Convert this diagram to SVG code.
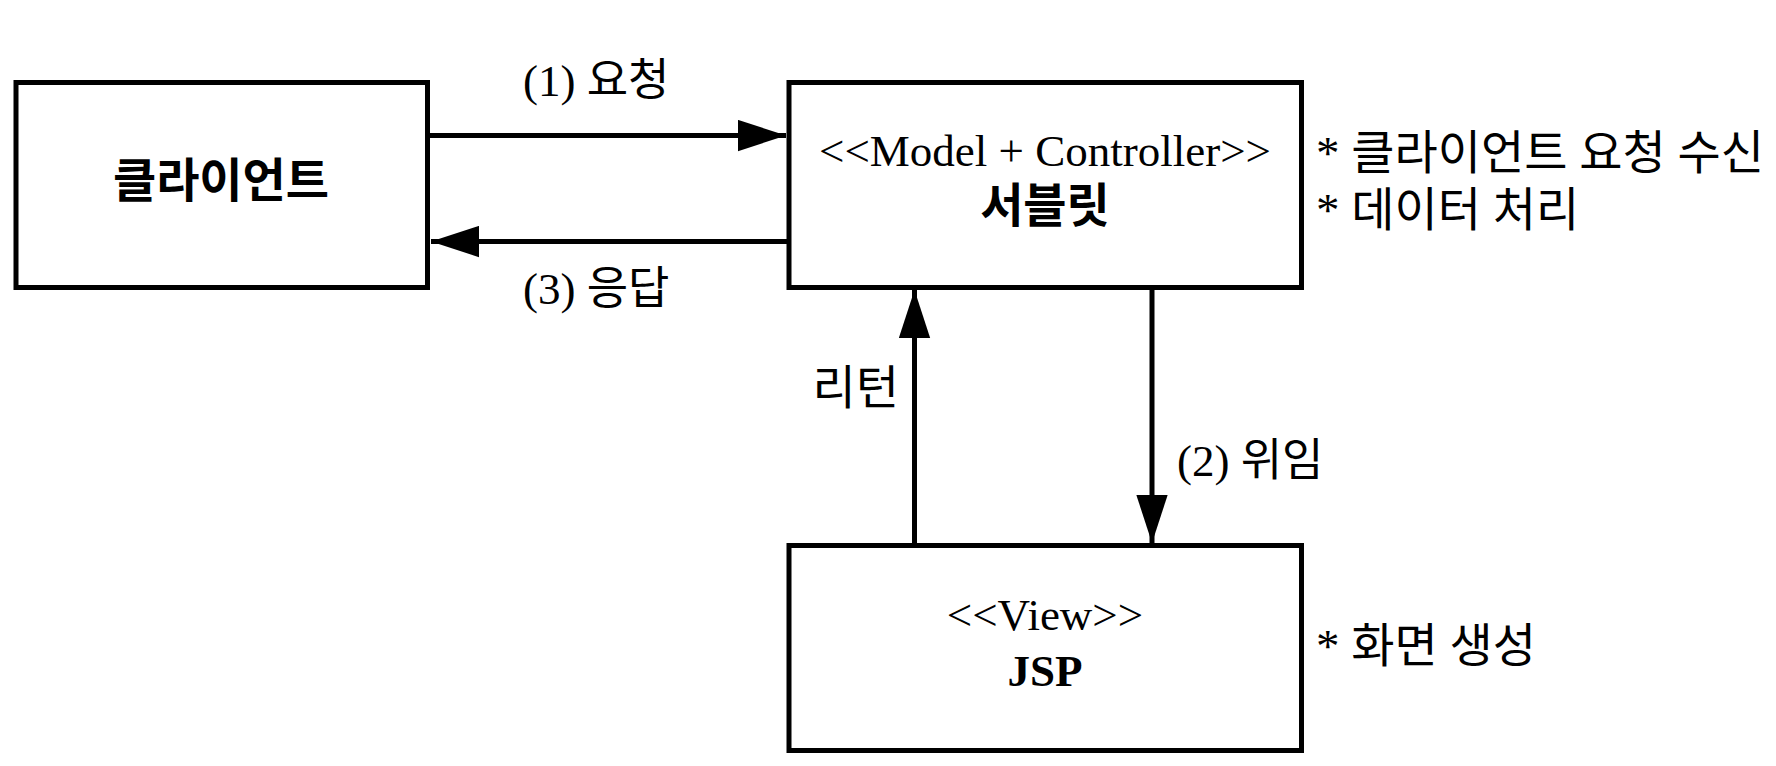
<svg xmlns="http://www.w3.org/2000/svg" width="1776" height="766" viewBox="0 0 1776 766">
  <style>
    .box { fill: #ffffff; stroke: #000000; stroke-width: 5; }
    .conn { stroke: #000000; stroke-width: 5; fill: none; }
    .t { font-family: "Liberation Serif", "Noto Sans CJK KR", serif; font-size: 45px; fill: #000000; }
    .k { font-size: 47px; }
    .b { font-weight: bold; }
    .c { text-anchor: middle; }
  </style>
  <defs>
    <marker id="arrow" markerUnits="userSpaceOnUse" markerWidth="48" markerHeight="32" viewBox="0 0 46 30" refX="46" refY="15" orient="auto">
      <path d="M0,0 L46,15 L0,30 Z" fill="#000000"/>
    </marker>
  </defs>
  <rect x="0" y="0" width="1776" height="766" fill="#ffffff"/>

  <g id="client">
    <rect class="box" x="16" y="82.5" width="411.5" height="205"/>
    <text class="t k b c" x="221" y="197">클라이언트</text>
  </g>

  <g id="servlet">
    <rect class="box" x="789" y="82.5" width="512.5" height="205"/>
    <text class="t c" x="1045" y="166">&lt;&lt;Model + Controller&gt;&gt;</text>
    <text class="t k b c" x="1045" y="222">서블릿</text>
  </g>

  <g id="servlet-notes">
    <text class="t k" x="1316" y="169">* 클라이언트 요청 수신</text>
    <text class="t k" x="1316" y="226">* 데이터 처리</text>
  </g>

  <g id="jsp">
    <rect class="box" x="789" y="545.5" width="512.5" height="205"/>
    <text class="t c" x="1045" y="630">&lt;&lt;View&gt;&gt;</text>
    <text class="t b c" x="1045" y="686">JSP</text>
  </g>

  <g id="jsp-notes">
    <text class="t k" x="1316" y="662">* 화면 생성</text>
  </g>

  <g id="connectors">
    <line class="conn" x1="430" y1="135.5" x2="786" y2="135.5" marker-end="url(#arrow)"/>
    <line class="conn" x1="789" y1="241.5" x2="431" y2="241.5" marker-end="url(#arrow)"/>
    <line class="conn" x1="914.5" y1="543" x2="914.5" y2="290" marker-end="url(#arrow)"/>
    <line class="conn" x1="1152" y1="290" x2="1152" y2="543" marker-end="url(#arrow)"/>
    <text class="t" x="523" y="96">(1) 요청</text>
    <text class="t" x="523" y="304">(3) 응답</text>
    <text class="t" x="1177" y="476">(2) 위임</text>
    <text class="t k" x="899" y="404" text-anchor="end">리턴</text>
  </g>
</svg>
